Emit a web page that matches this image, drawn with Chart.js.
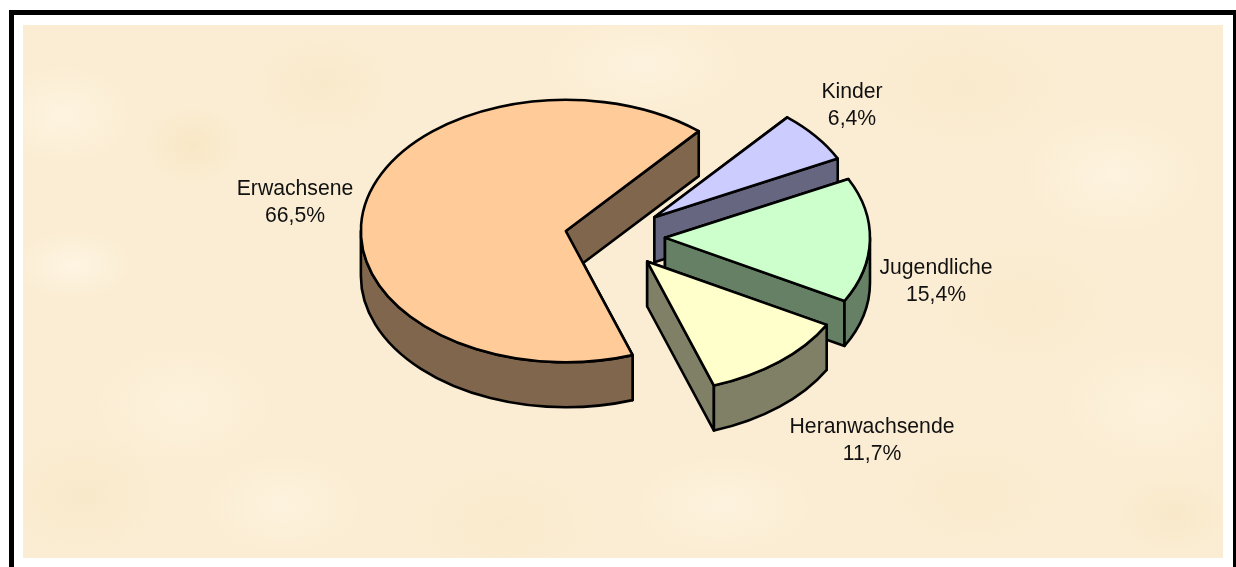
<!DOCTYPE html>
<html><head><meta charset="utf-8">
<style>
html,body{margin:0;padding:0;background:#fff;width:1236px;height:567px;overflow:hidden}
#frame{position:absolute;left:9px;top:10px;width:1229px;height:700px;border:5px solid #000;box-sizing:border-box;}
#paper{position:absolute;left:23px;top:25px;width:1200px;height:533px;background-color:#fbedd3;
background-image:
radial-gradient(ellipse 60px 35px at 50px 240px,rgba(255,250,238,.55),transparent),
radial-gradient(ellipse 50px 40px at 170px 120px,rgba(247,228,190,.6),transparent),
radial-gradient(ellipse 70px 50px at 40px 90px,rgba(255,248,232,.6),transparent),
radial-gradient(ellipse 90px 60px at 160px 380px,rgba(255,247,230,.5),transparent),
radial-gradient(ellipse 70px 50px at 300px 60px,rgba(248,230,196,.55),transparent),
radial-gradient(ellipse 80px 60px at 60px 470px,rgba(247,229,194,.5),transparent),
radial-gradient(ellipse 80px 50px at 260px 480px,rgba(255,247,230,.55),transparent),
radial-gradient(ellipse 90px 60px at 480px 500px,rgba(248,231,198,.5),transparent),
radial-gradient(ellipse 90px 50px at 700px 480px,rgba(255,248,232,.5),transparent),
radial-gradient(ellipse 100px 60px at 940px 60px,rgba(248,231,198,.55),transparent),
radial-gradient(ellipse 90px 60px at 1090px 150px,rgba(255,248,232,.55),transparent),
radial-gradient(ellipse 90px 60px at 1000px 280px,rgba(248,231,198,.5),transparent),
radial-gradient(ellipse 90px 60px at 1130px 380px,rgba(255,247,230,.5),transparent),
radial-gradient(ellipse 80px 50px at 950px 470px,rgba(248,231,198,.5),transparent),
radial-gradient(ellipse 60px 40px at 1150px 490px,rgba(247,229,194,.55),transparent),
radial-gradient(ellipse 100px 50px at 620px 40px,rgba(255,248,232,.5),transparent);}
canvas{position:absolute;left:0;top:0}
</style>
<script src="https://cdn.jsdelivr.net/npm/chart.js@4"></script>
</head><body>
<div id="frame"></div><div id="paper"></div>
<canvas id="c" width="1236" height="567"></canvas>
<script>
const categories = ['Erwachsene','Kinder','Jugendliche','Heranwachsende'];
const shares = [66.5,6.4,15.4,11.7];
const topColors = ['#FFCC99','#CCCCFF','#CCFFCC','#FFFFCC'];
const wallColors = ['#80664D','#666680','#668066','#808066'];

const SQUASH = 0.64, DEPTH = 45, LINE = 2.6;
const labelAnchors = [[295,189],[852,92],[936,268],[872,427]];
const drawOrder = [0,1,2,3];

const pie3d = {
  id:'pie3d',
  beforeDatasetDraw(chart){
    const ctx = chart.ctx;
    const arcs = chart.getDatasetMeta(0).data;
    ctx.save();
    ctx.lineWidth = LINE; ctx.strokeStyle = '#000'; ctx.lineJoin = 'round';
    drawOrder.forEach(i=>{
      const el = arcs[i];
      const {x,y,startAngle:a0,endAngle:a1,outerRadius:R} = el.getProps(['x','y','startAngle','endAngle','outerRadius']);
      const mid=(a0+a1)/2, off=(el.options.offset||0)/4;
      const cx=x+Math.cos(mid)*off, cy=y+Math.sin(mid)*off*SQUASH;
      const P=a=>[cx+R*Math.cos(a),cy+R*Math.sin(a)*SQUASH];
      ctx.fillStyle = wallColors[i];
      [a0,a1].forEach(a=>{
        const p=P(a);
        ctx.beginPath();ctx.moveTo(cx,cy);ctx.lineTo(p[0],p[1]);ctx.lineTo(p[0],p[1]+DEPTH);ctx.lineTo(cx,cy+DEPTH);ctx.closePath();
        ctx.fill();ctx.stroke();
      });
      for(let k=0;k<2;k++){
        const s=Math.max(a0,2*Math.PI*k), e=Math.min(a1,2*Math.PI*k+Math.PI);
        if(e>s){
          ctx.beginPath();
          ctx.ellipse(cx,cy,R,R*SQUASH,0,s,e);
          ctx.ellipse(cx,cy+DEPTH,R,R*SQUASH,0,e,s,true);
          ctx.closePath();ctx.fill();ctx.stroke();
        }
      }
      ctx.beginPath();
      ctx.moveTo(cx,cy);
      ctx.ellipse(cx,cy,R,R*SQUASH,0,a0,a1);
      ctx.closePath();
      ctx.fillStyle = el.options.backgroundColor;
      ctx.fill();ctx.stroke();
    });
    ctx.fillStyle='#111';ctx.textAlign='center';ctx.textBaseline='middle';
    ctx.font='21.2px "Liberation Sans", Arial, sans-serif';
    categories.forEach((c,i)=>{
      const [lx,ly]=labelAnchors[i];
      ctx.fillText(c,lx,ly);
      ctx.fillText(shares[i].toFixed(1).replace('.',',')+'%',lx,ly+27);
    });
    ctx.restore();
    return false;
  }
};

new Chart(document.getElementById('c'),{
  type:'pie',
  data:{labels:categories,datasets:[{data:shares,backgroundColor:topColors,borderWidth:0,offset:200,clip:false}]},
  options:{
    responsive:false,animation:false,rotation:161,radius:205,
    layout:{padding:{left:0,top:0,right:6,bottom:93}},
    plugins:{legend:{display:false},tooltip:{enabled:false},title:{display:false}}
  },
  plugins:[pie3d]
});
</script>
</body></html>
